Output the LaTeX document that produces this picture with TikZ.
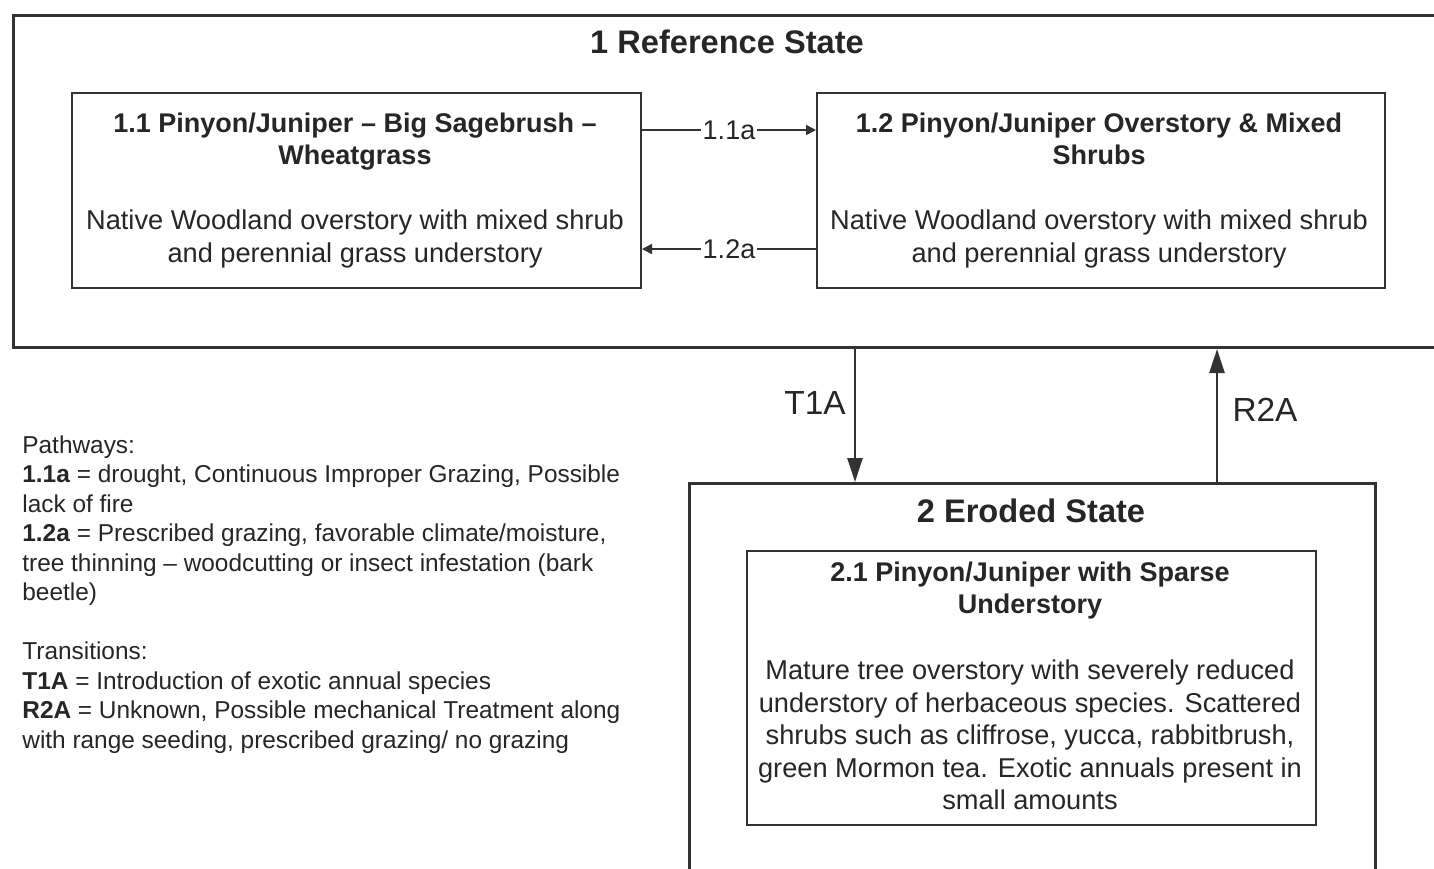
\documentclass[tikz,border=0pt]{standalone}
\usepackage{fontspec}
\setmainfont{Liberation Sans}
\usetikzlibrary{arrows.meta,calc}
\definecolor{ink}{HTML}{262626}
\definecolor{edge}{HTML}{333333}
\tikzset{
  statebox/.style={draw=edge, line width=1.5pt, fill=white, anchor=north west, inner sep=0pt},
  phasebox/.style={draw=edge, line width=1pt, fill=white, anchor=north west, inner sep=0pt},
  statetitle/.style={text=ink, font=\bfseries\fontsize{16.3}{19}\selectfont},
  phasetitle/.style={text=ink, align=center, font=\bfseries\fontsize{13.5}{16}\selectfont},
  phasetext/.style={text=ink, align=center, font=\fontsize{13.6}{16.2}\selectfont},
  smallarr/.style={draw=edge, line width=0.8pt, -{Triangle[length=5pt,width=5pt]}},
  bigarr/.style={draw=edge, line width=1.2pt, -{Triangle[length=12pt,width=7.5pt]}},
  arrlabel/.style={text=ink, fill=white, inner sep=1pt, font=\fontsize{13.5}{15}\selectfont},
  translabel/.style={text=ink, font=\fontsize{16.7}{19}\selectfont},
  legend/.style={text=ink, align=left, anchor=north west, inner sep=0pt, font=\fontsize{12.2}{14.75}\selectfont}
}
\begin{document}
\begin{tikzpicture}[x=0.5pt,y=-0.5pt]
\useasboundingbox (0,0) rectangle (1434,868);
\clip (0,0) rectangle (1434,868);
\fill[white] (0,0) rectangle (1434,868);

% State 1
\node[statebox, minimum width=719pt, minimum height=166pt] (b1) at (12,14) {};
\node[statetitle] (t1) at (727,42) {1 Reference State};

\node[phasebox, minimum width=284.5pt, minimum height=97.5pt] (b11) at (71,92) {};
\node[phasetitle] (t11) at (355,142) {1.1 Pinyon/Juniper – Big Sagebrush –\\Wheatgrass};
\node[phasetext] (d11) at (355,239) {Native Woodland overstory with mixed shrub\\and perennial grass understory};

\node[phasebox, minimum width=284pt, minimum height=97.5pt] (b12) at (816,92) {};
\node[phasetitle] (t12) at (1099,139) {1.2 Pinyon/Juniper Overstory \& Mixed\\Shrubs};
\node[phasetext] (d12) at (1099,239) {Native Woodland overstory with mixed shrub\\and perennial grass understory};

\draw[smallarr] ([yshift=-19pt]b11.north east) -- node[arrlabel] (l11a) {1.1a} ([yshift=-19pt]b12.north west);
\draw[smallarr] ([yshift=20pt]b12.south west) -- node[arrlabel] (l12a) {1.2a} ([yshift=20pt]b11.south east);

% State 2
\node[statebox, minimum width=343pt, minimum height=215pt] (b2) at (688,482) {};
\node[statetitle] (t2) at (1031,511) {2 Eroded State};

\node[phasebox, minimum width=284.5pt, minimum height=137pt] (b21) at (746,550) {};
\node[phasetitle] (t21) at (1030,591) {2.1 Pinyon/Juniper with Sparse\\Understory};
\node[phasetext] (d21) at (1030,735) {Mature tree overstory with severely reduced\\understory of herbaceous species. Scattered\\shrubs such as cliffrose, yucca, rabbitbrush,\\green Mormon tea. Exotic annuals present in\\small amounts};

% Transitions
\draw[bigarr] ([xshift=421.5pt]b1.south west) -- ([xshift=83.5pt]b2.north west);
\draw[bigarr] ([xshift=264.5pt]b2.north west) -- ([xshift=602.5pt]b1.south west);
\node[translabel] (lt1a) at (815,403) {T1A};
\node[translabel] (lr2a) at (1265,410) {R2A};

% Legend
\node[legend] (leg) at (22,435) {Pathways:\\
\textbf{1.1a} = drought, Continuous Improper Grazing, Possible\\
lack of fire\\
\textbf{1.2a} = Prescribed grazing, favorable climate/moisture,\\
tree thinning – woodcutting or insect infestation (bark\\
beetle)\\[14.75pt]
Transitions:\\
\textbf{T1A} = Introduction of exotic annual species\\
\textbf{R2A} = Unknown, Possible mechanical Treatment along\\
with range seeding, prescribed grazing/ no grazing};
\end{tikzpicture}
\end{document}
